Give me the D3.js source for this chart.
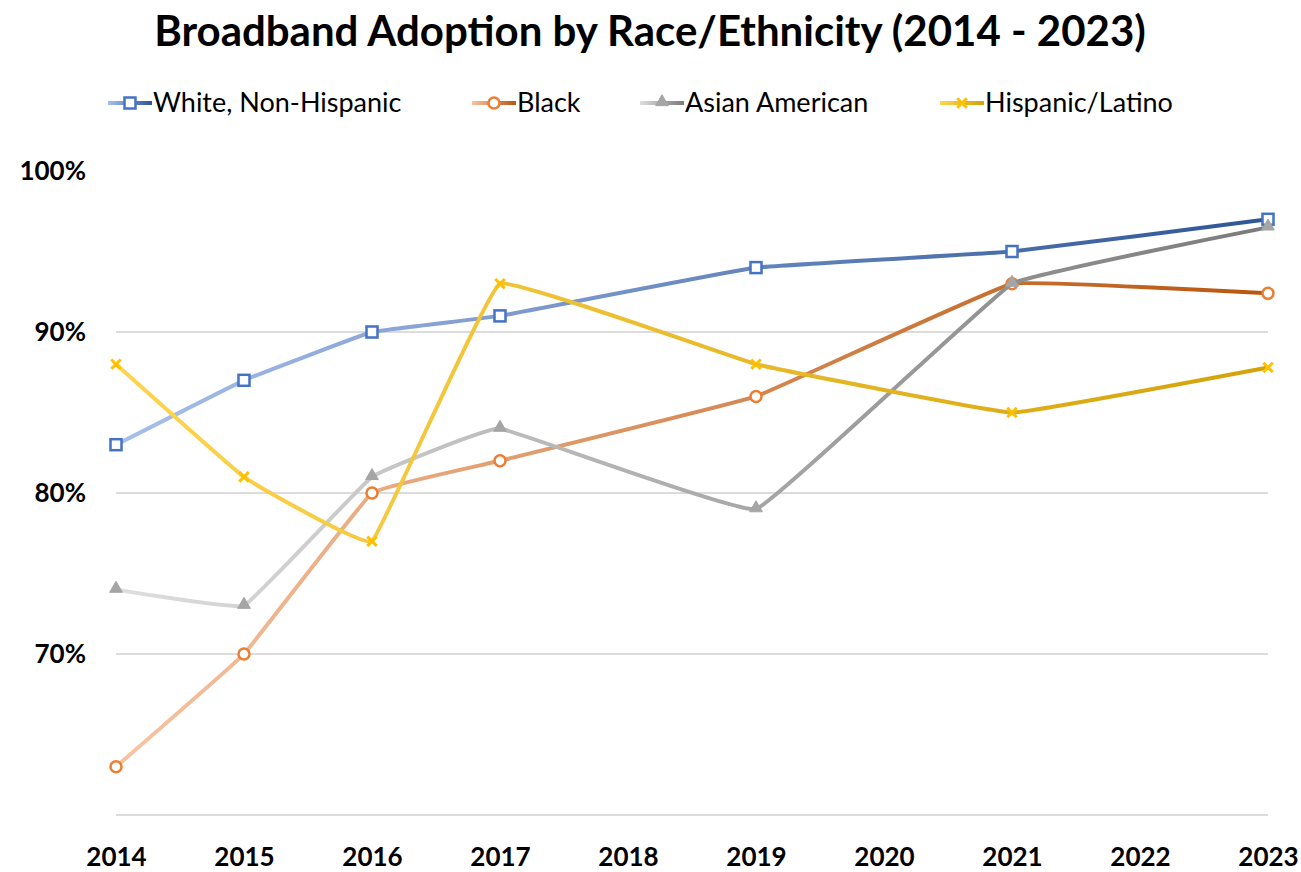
<!DOCTYPE html>
<html>
<head>
<meta charset="utf-8">
<script src="https://d3js.org/d3.v7.min.js"></script>
<style>
  body { margin: 0; background: #fff; }
  text { font-family: Lato, "Open Sans", sans-serif; fill: #000; }
</style>
</head>
<body>
<script>
(function(){

    //chart data
    var years = [2014, 2015, 2016, 2017, 2018, 2019, 2020, 2021, 2022, 2023];
    var whiteVals    = [83, 87, 90, 91, null, 94, null, 95, null, 97];
    var blackVals    = [63, 70, 80, 82, null, 86, null, 93, null, 92.4];
    var asianVals    = [74, 73, 81, 84, null, 79, null, 93, null, 96.5];
    var hispanicVals = [88, 81, 77, 93, null, 88, null, 85, null, 87.8];
    var seriesNames = ["White, Non-Hispanic", "Black", "Asian American", "Hispanic/Latino"];
    var yTicks = [0.7, 0.8, 0.9, 1.0];
    var gridTicks = [0.6, 0.7, 0.8, 0.9];

    //series styling
    var series = [
        {name: seriesNames[0], vals: whiteVals,    light: "#a7c0ea", dark: "#2e5596", marker: "#4472c4", shape: "square"},
        {name: seriesNames[1], vals: blackVals,    light: "#f7c4a2", dark: "#b8560f", marker: "#ed7d31", shape: "circle"},
        {name: seriesNames[2], vals: asianVals,    light: "#dedede", dark: "#7a7a7a", marker: "#a5a5a5", shape: "triangle"},
        {name: seriesNames[3], vals: hispanicVals, light: "#ffd54f", dark: "#d4a20a", marker: "#ffc000", shape: "x"}
    ];

    var width = 1301, height = 872;
    var margin = {left: 116, right: 33, top: 171, bottom: 57};

    var svg = d3.select("body").append("svg")
        .attr("width", width)
        .attr("height", height);

    var x = d3.scaleLinear()
        .domain([years[0], years[years.length - 1]])
        .range([margin.left, width - margin.right]);

    var y = d3.scaleLinear()
        .domain([0.6, 1.0])
        .range([height - margin.bottom, margin.top]);

    //gradients, light at the left, dark at the right
    var defs = svg.append("defs");
    series.forEach(function(s, i){
        var g = defs.append("linearGradient")
            .attr("id", "grad" + i)
            .attr("gradientUnits", "userSpaceOnUse")
            .attr("x1", x.range()[0]).attr("x2", x.range()[1])
            .attr("y1", 0).attr("y2", 0);
        g.append("stop").attr("offset", "0%").attr("stop-color", s.light);
        g.append("stop").attr("offset", "100%").attr("stop-color", s.dark);
    });

    //title
    svg.append("text")
        .attr("x", 650)
        .attr("y", 46)
        .attr("text-anchor", "middle")
        .style("font-size", "42px")
        .style("font-weight", "bold")
        .text("Broadband Adoption by Race/Ethnicity (2014 - 2023)");

    //gridlines
    svg.append("g").selectAll("line")
        .data(gridTicks)
        .enter().append("line")
        .attr("x1", x.range()[0])
        .attr("x2", x.range()[1])
        .attr("y1", function(d){ return y(d); })
        .attr("y2", function(d){ return y(d); })
        .attr("stroke", "#d0d0d0")
        .attr("stroke-width", 1.5);

    //y axis labels
    var yAxis = d3.axisLeft(y)
        .tickValues(yTicks)
        .tickFormat(d3.format(".0%"))
        .tickSize(0)
        .tickPadding(0);
    var yg = svg.append("g")
        .attr("transform", "translate(86,0)")
        .call(yAxis);
    yg.select(".domain").remove();
    yg.selectAll("text")
        .style("font-size", "26px")
        .style("font-weight", "bold")
        .style("font-family", "Lato, sans-serif")
        .attr("fill", "#000");

    //x axis labels
    var xAxis = d3.axisBottom(x)
        .tickValues(years)
        .tickFormat(d3.format("d"))
        .tickSize(0)
        .tickPadding(0);
    var xg = svg.append("g")
        .attr("transform", "translate(0," + (height - 6) + ")")
        .call(xAxis);
    xg.select(".domain").remove();
    xg.selectAll("text")
        .attr("dy", "0")
        .style("font-size", "26px")
        .style("font-weight", "bold")
        .style("font-family", "Lato, sans-serif")
        .attr("fill", "#000");

    //line generator, only a light smoothing
    var line = d3.line()
        .x(function(d){ return x(d.year); })
        .y(function(d){ return y(d.val / 100); })
        .curve(d3.curveCardinal.tension(0.8));

    function symbolPath(shape, size){
        var t = {square: d3.symbolSquare, circle: d3.symbolCircle, triangle: d3.symbolTriangle, x: d3.symbolX}[shape];
        return d3.symbol().type(t).size(size)();
    }

    function drawMarker(g, s, cx, cy){
        if (s.shape === "square"){
            g.append("rect").attr("x", cx - 5.5).attr("y", cy - 5.5)
                .attr("width", 11).attr("height", 11)
                .attr("fill", "#fff").attr("stroke", s.marker).attr("stroke-width", 2.5);
        } else if (s.shape === "circle"){
            g.append("circle").attr("cx", cx).attr("cy", cy).attr("r", 5.5)
                .attr("fill", "#fff").attr("stroke", s.marker).attr("stroke-width", 2.5);
        } else if (s.shape === "triangle"){
            g.append("path").attr("d", symbolPath("triangle", 70))
                .attr("transform", "translate(" + cx + "," + (cy - 1) + ")")
                .attr("fill", s.marker).attr("stroke", s.marker).attr("stroke-width", 1);
        } else {
            g.append("path").attr("d", symbolPath("x", 60))
                .attr("transform", "translate(" + cx + "," + cy + ")")
                .attr("fill", s.marker).attr("stroke", s.marker).attr("stroke-width", 3);
        }
    }

    //series lines and markers
    series.forEach(function(s, i){
        var pts = [];
        years.forEach(function(yr, j){
            if (s.vals[j] != null) pts.push({year: yr, val: s.vals[j]});
        });
        var g = svg.append("g").attr("class", "series");
        g.append("path")
            .datum(pts)
            .attr("d", line)
            .attr("fill", "none")
            .attr("stroke", "url(#grad" + i + ")")
            .attr("stroke-width", 4)
            .attr("stroke-linejoin", "round");
        pts.forEach(function(p){
            drawMarker(g, s, x(p.year), y(p.val / 100));
        });
    });

    //legend
    var legendX = [108, 472, 640, 940];
    var legendY = 103;
    series.forEach(function(s, i){
        var g = svg.append("g").attr("transform", "translate(" + legendX[i] + "," + legendY + ")");
        var lg = defs.append("linearGradient")
            .attr("id", "lgrad" + i);
        lg.append("stop").attr("offset", "0%").attr("stop-color", s.light);
        lg.append("stop").attr("offset", "100%").attr("stop-color", s.dark);
        g.append("rect")
            .attr("x", 0).attr("y", -2).attr("width", 44).attr("height", 4)
            .attr("fill", "url(#lgrad" + i + ")");
        drawMarker(g, s, 22, 0);
        g.append("text")
            .attr("x", 45)
            .attr("y", 0)
            .attr("dy", "0.35em")
            .style("font-size", "27px")
            .text(s.name);
    });

})();
</script>
</body>
</html>
